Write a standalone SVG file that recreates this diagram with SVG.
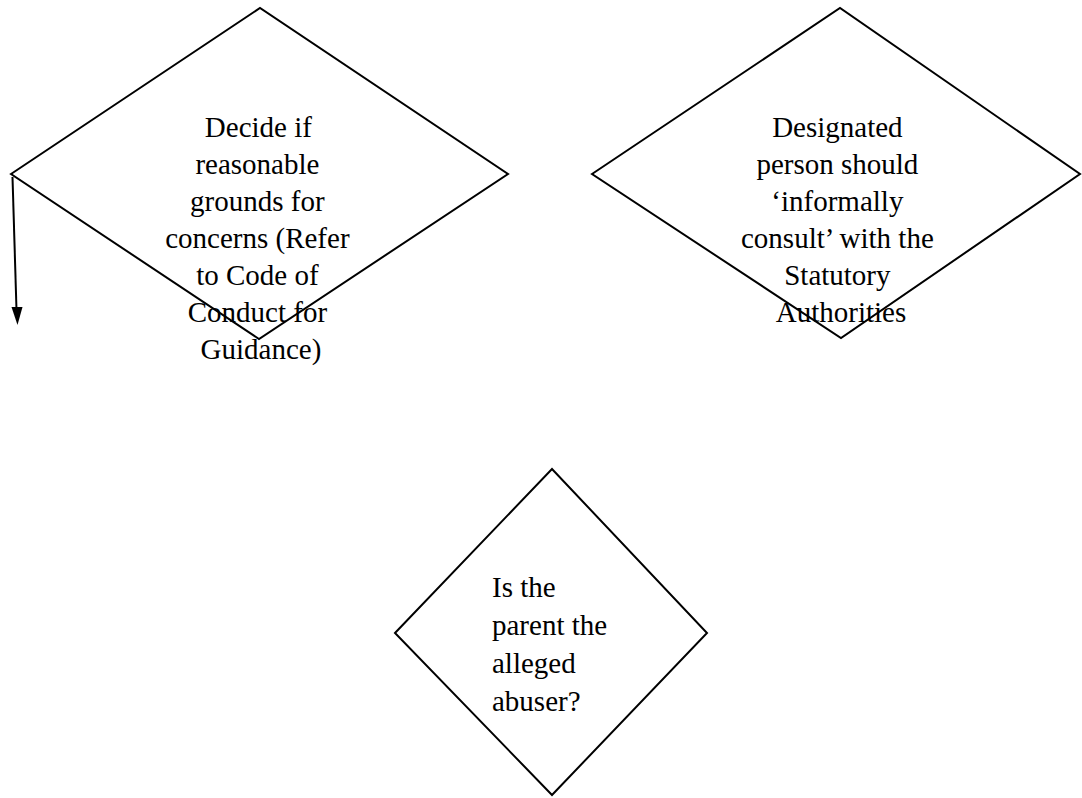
<svg xmlns="http://www.w3.org/2000/svg" width="1082" height="798" viewBox="0 0 1082 798">
<style>
.shape{fill:none;stroke:#000;stroke-width:2;stroke-linejoin:miter}
.lbl{font-family:"Liberation Serif","Times New Roman",serif;font-size:29px;fill:#000}
.c{text-anchor:middle}
.conn{fill:none;stroke:#000;stroke-width:2}
</style>
<rect width="1082" height="798" fill="#fff"/>
<g id="node-decide">
<polygon class="shape" points="11,174 260,8 508,174 259,339"/>
<text class="lbl c">
<tspan x="262" y="137">Decide if</tspan>
<tspan x="261" y="174">reasonable</tspan>
<tspan x="261" y="211">grounds for</tspan>
<tspan x="261" y="248">concerns (Refer</tspan>
<tspan x="261" y="285">to Code of</tspan>
<tspan x="261" y="322">Conduct for</tspan>
<tspan x="261" y="359">Guidance)</tspan>
</text>
</g>
<g id="node-consult">
<polygon class="shape" points="592,174 840,8 1080,174 841,338"/>
<text class="lbl c">
<tspan x="841" y="137">Designated</tspan>
<tspan x="841" y="174">person should</tspan>
<tspan x="841" y="211">‘informally</tspan>
<tspan x="841" y="248">consult’ with the</tspan>
<tspan x="841" y="285">Statutory</tspan>
<tspan x="841" y="322">Authorities</tspan>
</text>
</g>
<g id="node-parent">
<polygon class="shape" points="395,633 552,469 707,633 552,795"/>
<text class="lbl">
<tspan x="492" y="597">Is the</tspan>
<tspan x="492" y="635">parent the</tspan>
<tspan x="492" y="673">alleged</tspan>
<tspan x="492" y="711">abuser?</tspan>
</text>
</g>
<g id="connectors">
<line x1="12.5" y1="177" x2="16.5" y2="310" class="conn"/>
<path d="M11.5,307 L22.5,307 L17.5,325 Z" fill="#000"/>
</g>
</svg>
